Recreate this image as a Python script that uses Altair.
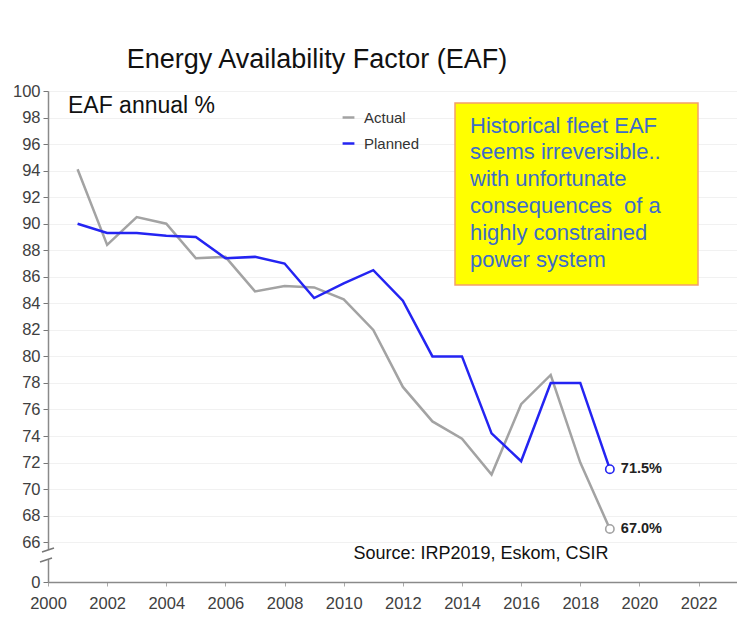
import altair as alt
import pandas as pd

# ---- data ----
years = list(range(2001, 2020))
actual = [94.1, 88.4, 90.5, 90.0, 87.4, 87.5, 84.9, 85.3, 85.2, 84.3,
          82.0, 77.7, 75.1, 73.8, 71.1, 76.4, 78.6, 72.0, 67.0]
planned = [90.0, 89.3, 89.3, 89.1, 89.0, 87.4, 87.5, 87.0, 84.4, 85.5,
           86.5, 84.2, 80.0, 80.0, 74.2, 72.1, 78.0, 78.0, 71.5]
series_names = ["Actual", "Planned"]
series_colors = ["#a3a3a3", "#2424f2"]

x_ticks = list(range(2000, 2023, 2))
y_break_value = 63          # position used for the "0" label under the axis break
y_ticks = [y_break_value] + list(range(66, 101, 2))

title_text = "Energy Availability Factor (EAF)"
subtitle_text = "EAF annual %"
note_lines = ["Historical fleet EAF", "seems irreversible..", "with unfortunate",
              "consequences\u00a0 of a", "highly constrained", "power system"]
source_text = "Source: IRP2019, Eskom, CSIR"

rows = []
for name, vals in zip(series_names, [actual, planned]):
    for y, v in zip(years, vals):
        rows.append({"year": y, "value": v, "series": name})
df = pd.DataFrame(rows)
last = df[df["year"] == years[-1]].copy()
last["label"] = last["value"].map(lambda v: f"{v:.1f}%")

W, H = 689, 491
FONT = "Liberation Sans"

x_axis = alt.Axis(values=x_ticks, format="d", title=None, grid=False,
                  labelFontSize=16.5, labelColor="#404040", labelFont=FONT,
                  labelFlush=False, labelOverlap=False,
                  tickSize=4, tickColor="#aaaaaa", labelPadding=9,
                  domainColor="#8a8a8a", domainWidth=1.5)
y_axis = alt.Axis(values=y_ticks, title=None, grid=True, gridColor="#f1f1f1",
                  labelExpr=f"datum.value == {y_break_value} ? '0' : datum.label",
                  labelFlush=False, labelOverlap=False,
                  labelFontSize=16.5, labelColor="#404040", labelFont=FONT,
                  tickSize=5, tickColor="#777777", labelPadding=3,
                  domainColor="#8a8a8a", domainWidth=1.5)
x_scale = alt.Scale(domain=[2000, 2023.3], nice=False, zero=False)
y_scale = alt.Scale(domain=[y_break_value, 100], nice=False, zero=False)


def xenc():
    return alt.X("year:Q", scale=x_scale, axis=x_axis)


def yenc():
    return alt.Y("value:Q", scale=y_scale, axis=y_axis)


lines = alt.Chart(df).mark_line(strokeWidth=2.5).encode(
    x=xenc(), y=yenc(),
    color=alt.Color("series:N", scale=alt.Scale(domain=series_names, range=series_colors),
                    legend=alt.Legend(title=None, orient="none", legendX=293, legendY=19,
                                      symbolType="stroke", symbolStrokeWidth=2.5,
                                      symbolSize=140, labelFontSize=15, labelFont=FONT,
                                      labelColor="#333333", rowPadding=10, padding=0,
                                      labelOffset=8)),
    order="year:Q",
)

points = alt.Chart(last).mark_point(shape="circle", filled=True, fill="white",
                                    size=70, strokeWidth=1.6, opacity=1).encode(
    x=xenc(), y=yenc(),
    stroke=alt.Stroke("series:N", scale=alt.Scale(domain=series_names, range=series_colors),
                      legend=None),
)

end_labels = alt.Chart(last).mark_text(align="left", dx=11, fontWeight="bold",
                                       fontSize=14.5, font=FONT,
                                       color="#222222").encode(
    x=xenc(), y=yenc(), text="label:N")

title = alt.Chart(pd.DataFrame({"t": [title_text]})).mark_text(
    fontSize=27, font=FONT, color="#111111", baseline="middle").encode(
    x=alt.value(269), y=alt.value(-31), text="t:N")

sub = alt.Chart(pd.DataFrame({"t": [subtitle_text]})).mark_text(
    fontSize=23, font=FONT, color="#111111", align="left", baseline="middle").encode(
    x=alt.value(20), y=alt.value(15), text="t:N")

box = alt.Chart(pd.DataFrame({"a": [0]})).mark_rect(
    fill="#ffff00", stroke="#f4a06a", strokeWidth=1.5).encode(
    x=alt.value(407), x2=alt.value(650), y=alt.value(12), y2=alt.value(194))

note = alt.Chart(pd.DataFrame({"t": ["\n".join(note_lines)]})).mark_text(
    fontSize=22, font=FONT, color="#3d6cc8", align="left", baseline="alphabetic",
    lineBreak="\n", lineHeight=26.8).encode(
    x=alt.value(422), y=alt.value(41.5), text="t:N")

source = alt.Chart(pd.DataFrame({"t": [source_text]})).mark_text(
    fontSize=18, font=FONT, color="#111111", baseline="middle").encode(
    x=alt.value(433), y=alt.value(463), text="t:N")

gap = alt.Chart(pd.DataFrame({"a": [0]})).mark_rect(fill="white").encode(
    x=alt.value(-3), x2=alt.value(3), y=alt.value(459), y2=alt.value(469))
slash1 = alt.Chart(pd.DataFrame({"a": [0]})).mark_rule(color="#777777", strokeWidth=1.5).encode(
    x=alt.value(-6), x2=alt.value(6), y=alt.value(461), y2=alt.value(457))
slash2 = alt.Chart(pd.DataFrame({"a": [0]})).mark_rule(color="#777777", strokeWidth=1.5).encode(
    x=alt.value(-8), x2=alt.value(4), y=alt.value(471), y2=alt.value(467))

chart = alt.layer(
    box, note, lines, points, end_labels, title, sub, source, gap, slash1, slash2
).properties(
    width=W, height=H,
    autosize=alt.AutoSizeParams(type="none"),
    padding={"left": 40, "top": 83, "right": 0, "bottom": 44},
).configure_view(stroke=None).configure(background="white")

chart.save("out.html", embed_options={"renderer": "svg", "actions": False})
